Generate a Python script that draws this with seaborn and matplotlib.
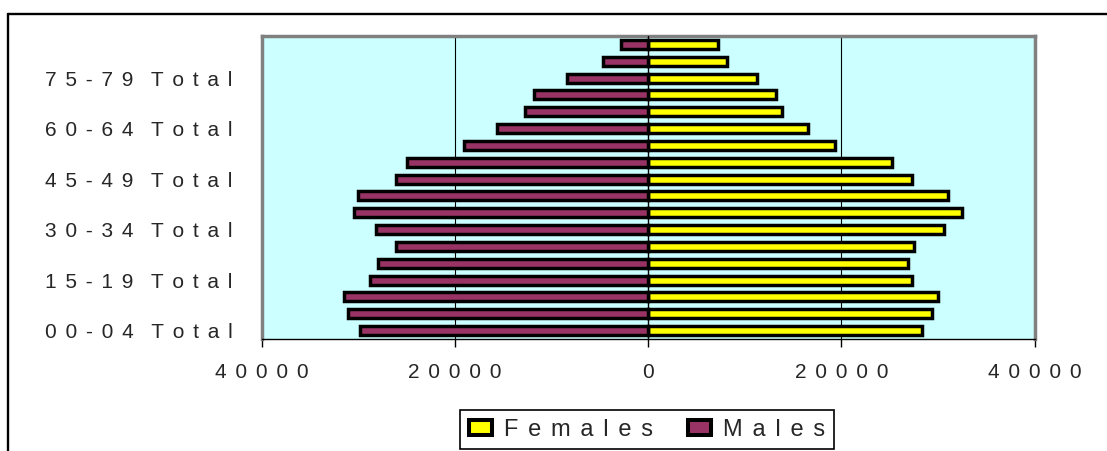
import matplotlib
matplotlib.use("Agg")
import matplotlib.pyplot as plt
from matplotlib.lines import Line2D
import seaborn as sns
import pandas as pd

# Population by five-year age group (bottom row first)
ages = ["00-04", "05-09", "10-14", "15-19", "20-24", "25-29", "30-34", "35-39",
        "40-44", "45-49", "50-54", "55-59", "60-64", "65-69", "70-74", "75-79",
        "80-84", "85+"]
males = [29900, 31100, 31500, 28800, 28000, 26100, 28200, 30500, 30100,
         26100, 25000, 19100, 15700, 12800, 11800, 8400, 4700, 2800]
females = [28300, 29400, 30000, 27300, 26900, 27500, 30600, 32500, 31000,
           27300, 25200, 19300, 16500, 13800, 13200, 11300, 8200, 7200]
labelled_ages = ["00-04", "15-19", "30-34", "45-49", "60-64", "75-79"]
x_ticks = [-40000, -20000, 0, 20000, 40000]
series = ["Females", "Males"]
colors = {"Females": "#FFFF00", "Males": "#993366"}

# four-per-em + six-per-em space: roughly 0.42 em of tracking per letter
GAP = "\u2005\u2006"


def spaced(text):
    """Letter-spaced label text."""
    return (GAP * 2).join(GAP.join(word) for word in text.split(" "))


df = pd.DataFrame({
    "age": ages * 2,
    "sex": ["Females"] * len(ages) + ["Males"] * len(ages),
    "value": females + [-m for m in males],
})

sns.set_style("white")
plt.rcParams["font.family"] = ["Liberation Sans", "DejaVu Sans"]

fig = plt.figure(figsize=(11.07, 4.51), dpi=100)
ax = fig.add_axes([262 / 1107, 1 - 339 / 451, 772.5 / 1107, 303 / 451])
ax.set_facecolor("#CCFFFF")

order = ages[::-1]
sns.barplot(data=df, x="value", y="age", hue="sex", order=order,
            hue_order=series, palette=colors, dodge=False, width=0.53,
            orient="h", edgecolor="black", linewidth=2.5, saturation=1,
            errorbar=None, ax=ax)

for gx in (-20000, 20000):
    ax.axvline(gx, color="black", lw=0.8, zorder=0.5)
ax.axvline(0, color="black", lw=1.0, zorder=3)

ax.set_xlim(-40000, 40000)
ax.set_ylim(len(ages) - 0.5, -0.5)
ax.set_xticks(x_ticks)
ax.set_xticklabels([spaced(str(abs(v))) for v in x_ticks], fontsize=15)
ax.set_yticks([order.index(a) for a in labelled_ages])
ax.set_yticklabels([spaced(f"{a} Total") for a in labelled_ages], fontsize=15)
ax.tick_params(axis="x", direction="out", length=6, width=1, color="black",
               pad=11, bottom=True)
ax.tick_params(axis="y", length=0, pad=21)
ax.set_xlabel("")
ax.set_ylabel("")

for side in ("left", "top", "right"):
    ax.spines[side].set_color("#808080")
    ax.spines[side].set_linewidth(2.5)
ax.spines["bottom"].set_color("black")
ax.spines["bottom"].set_linewidth(1.0)

handles, labels = ax.get_legend_handles_labels()
ax.get_legend().remove()
leg = fig.legend(handles, [spaced(l) for l in labels], loc="center",
                 bbox_to_anchor=(647 / 1107, 1 - 429.5 / 451), ncol=2,
                 fontsize=17, frameon=True, fancybox=False, framealpha=1,
                 edgecolor="black", handlelength=0.97, handleheight=0.6,
                 handletextpad=0.5, columnspacing=1.5, borderpad=0.38)
leg.get_frame().set_linewidth(1.2)
for h in leg.legend_handles:
    h.set_linewidth(2.9)

# Outer chart frame (top and left edges)
fig.add_artist(Line2D([8 / 1107, 1.01], [1 - 14 / 451, 1 - 14 / 451],
                      color="black", lw=1.7, transform=fig.transFigure))
fig.add_artist(Line2D([8 / 1107, 8 / 1107], [1 - 14 / 451, -0.01],
                      color="black", lw=1.7, transform=fig.transFigure))

fig.savefig("out.png", dpi=100)
